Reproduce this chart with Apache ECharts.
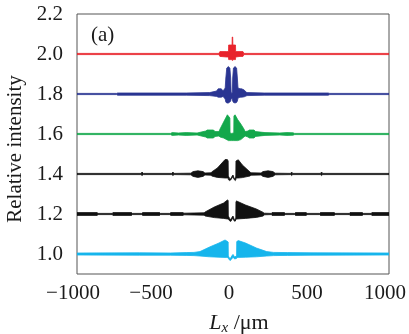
<!DOCTYPE html>
<html>
<head>
<meta charset="utf-8">
<script src="https://cdn.jsdelivr.net/npm/echarts@6/dist/echarts.min.js"></script>
<style>
  html, body { margin: 0; padding: 0; background: #fff; }
  #chart { width: 409px; height: 334px; }
</style>
</head>
<body>
<div id="chart"></div>
<script>
// envelope of each trace: x (um), upper and lower value
const redX = [-1000, -90, -84, -40, -29, -28, -6, -5, -2, -1, 16, 17, 45, 64, 70, 1000]
const redHi = [2.003, 2.003, 2.012, 2.012, 2.012, 2.045, 2.045, 2.085, 2.085, 2.045, 2.045, 2.012, 2.012, 2.012, 2.003, 2.003]
const redLo = [1.997, 1.997, 1.988, 1.985, 1.985, 1.972, 1.972, 1.968, 1.968, 1.972, 1.972, 1.985, 1.988, 1.988, 1.997, 1.997]

const blueX = [-1000, -745, -740, -300, -150, -105, -95, -75, -64, -50, -46, -40, -30, -20, -15, -12, -8, -4, -2, 3, 13, 23, 28, 32, 45, 55, 72, 83, 90, 200, 610, 620, 1000]
const blueHi = [1.803, 1.803, 1.805, 1.805, 1.807, 1.815, 1.826, 1.826, 1.815, 1.83, 1.88, 1.93, 1.937, 1.93, 1.88, 1.81, 1.80, 1.81, 1.88, 1.93, 1.937, 1.93, 1.88, 1.83, 1.826, 1.826, 1.82, 1.81, 1.807, 1.805, 1.805, 1.803, 1.803]
const blueLo = [1.797, 1.797, 1.794, 1.794, 1.792, 1.788, 1.784, 1.784, 1.788, 1.775, 1.76, 1.755, 1.755, 1.76, 1.765, 1.775, 1.78, 1.775, 1.765, 1.758, 1.755, 1.758, 1.765, 1.78, 1.784, 1.784, 1.786, 1.79, 1.792, 1.794, 1.794, 1.797, 1.797]

const greenX = [-1000, -400, -390, -350, -300, -230, -175, -165, -125, -115, -90, -83, -60, -36, -30, -20, -19, -10, 5, 6, 13, 30, 50, 70, 78, 96, 105, 135, 145, 205, 300, 346, 385, 395, 1000]
const greenHi = [1.603, 1.603, 1.607, 1.605, 1.607, 1.605, 1.615, 1.62, 1.62, 1.612, 1.612, 1.625, 1.66, 1.696, 1.69, 1.68, 1.605, 1.603, 1.605, 1.69, 1.696, 1.672, 1.65, 1.625, 1.612, 1.615, 1.62, 1.62, 1.612, 1.607, 1.605, 1.607, 1.606, 1.603, 1.603]
const greenLo = [1.597, 1.597, 1.593, 1.595, 1.593, 1.595, 1.585, 1.58, 1.58, 1.588, 1.59, 1.585, 1.58, 1.57, 1.567, 1.567, 1.567, 1.567, 1.567, 1.567, 1.567, 1.567, 1.572, 1.585, 1.59, 1.585, 1.58, 1.58, 1.588, 1.593, 1.595, 1.593, 1.594, 1.597, 1.597]

const black14X = [-1000, -590, -583, -575, -392, -385, -378, -270, -256, -225, -192, -180, -140, -137, -100, -51, -36, -31, -30, -22, -15, -5, 0, 8, 15, 18, 19, 34, 60, 109, 115, 180, 192, 225, 256, 270, 370, 376, 383, 560, 568, 575, 1000]
const black14Hi = [1.403, 1.403, 1.41, 1.403, 1.403, 1.41, 1.403, 1.404, 1.412, 1.416, 1.412, 1.405, 1.406, 1.41, 1.43, 1.472, 1.472, 1.465, 1.39, 1.378, 1.375, 1.39, 1.395, 1.378, 1.375, 1.39, 1.465, 1.471, 1.445, 1.41, 1.406, 1.405, 1.412, 1.416, 1.412, 1.404, 1.403, 1.41, 1.403, 1.403, 1.41, 1.403, 1.403]
const black14Lo = [1.397, 1.397, 1.392, 1.397, 1.397, 1.392, 1.397, 1.396, 1.388, 1.383, 1.388, 1.395, 1.394, 1.39, 1.383, 1.38, 1.38, 1.38, 1.372, 1.367, 1.37, 1.382, 1.385, 1.372, 1.367, 1.372, 1.38, 1.38, 1.382, 1.39, 1.394, 1.395, 1.388, 1.383, 1.388, 1.396, 1.397, 1.392, 1.397, 1.397, 1.392, 1.397, 1.397]

const black12X = [-1000, -870, -865, -775, -770, -650, -645, -585, -580, -470, -465, -405, -400, -320, -315, -185, -179, -120, -60, -36, -31, -30, -22, -14, -5, 0, 6, 12, 18, 19, 23, 80, 150, 194, 200, 245, 250, 330, 335, 395, 400, 470, 475, 555, 560, 650, 655, 745, 750, 830, 835, 885, 890, 1000]
const black12Hi = [1.207, 1.207, 1.203, 1.203, 1.207, 1.207, 1.203, 1.203, 1.207, 1.207, 1.203, 1.203, 1.207, 1.207, 1.204, 1.206, 1.21, 1.235, 1.255, 1.27, 1.268, 1.19, 1.178, 1.172, 1.185, 1.19, 1.178, 1.165, 1.18, 1.262, 1.265, 1.245, 1.225, 1.208, 1.204, 1.203, 1.207, 1.207, 1.203, 1.203, 1.207, 1.207, 1.203, 1.203, 1.207, 1.207, 1.203, 1.203, 1.207, 1.207, 1.203, 1.203, 1.207, 1.207]
const black12Lo = [1.193, 1.193, 1.197, 1.197, 1.193, 1.193, 1.197, 1.197, 1.193, 1.193, 1.197, 1.197, 1.193, 1.193, 1.196, 1.194, 1.19, 1.182, 1.178, 1.175, 1.175, 1.175, 1.166, 1.163, 1.175, 1.18, 1.168, 1.163, 1.17, 1.175, 1.175, 1.178, 1.183, 1.19, 1.196, 1.197, 1.193, 1.193, 1.197, 1.197, 1.193, 1.193, 1.197, 1.197, 1.193, 1.193, 1.197, 1.197, 1.193, 1.193, 1.197, 1.197, 1.193, 1.193]

const cyanX = [-1000, -600, -400, -300, -250, -212, -150, -90, -51, -40, -31, -30, -19, -8, 0, 10, 23, 24, 34, 80, 150, 216, 260, 350, 500, 1000]
const cyanHi = [1.005, 1.006, 1.005, 1.007, 1.008, 1.012, 1.035, 1.055, 1.07, 1.065, 1.06, 0.99, 0.975, 0.99, 0.998, 0.985, 0.99, 1.062, 1.067, 1.055, 1.03, 1.012, 1.008, 1.007, 1.006, 1.005]
const cyanLo = [0.995, 0.994, 0.994, 0.993, 0.992, 0.99, 0.986, 0.984, 0.983, 0.983, 0.983, 0.978, 0.967, 0.975, 0.985, 0.975, 0.978, 0.983, 0.983, 0.984, 0.986, 0.99, 0.992, 0.993, 0.994, 0.995]

const xTicks = [-1000, -500, 0, 500, 1000]
const yTicks = [1.0, 1.2, 1.4, 1.6, 1.8, 2.0, 2.2]

const FONT = '"Liberation Serif", "DejaVu Serif", serif'

// filled band between lo and hi, drawn once as a polygon through the axes
function band (xs, hi, lo, color) {
  return {
    type: 'custom',
    silent: true,
    clip: true,
    data: xs.map((x, i) => [x, hi[i], lo[i]]),
    encode: { x: 0, y: [1, 2] },
    renderItem (params, api) {
      if (params.dataIndexInside !== 0) return null
      const top = []
      const bottom = []
      for (let i = 0; i < xs.length; i++) {
        const x = api.value(0, i)
        top.push(api.coord([x, api.value(1, i)]))
        bottom.push(api.coord([x, api.value(2, i)]))
      }
      return {
        type: 'polygon',
        shape: { points: top.concat(bottom.reverse()) },
        style: { fill: color, stroke: color, lineWidth: 0.8 }
      }
    }
  }
}

const chart = echarts.init(document.getElementById('chart'))
chart.setOption({
  animation: false,
  title: {
    text: '(a)',
    left: 86,
    top: 20,
    textStyle: { fontFamily: FONT, fontSize: 21, fontWeight: 'normal', color: '#1a1a1a' }
  },
  grid: {
    left: 77,
    right: 20,
    top: 14,
    bottom: 60,
    outerBoundsMode: 'none',
    show: true,
    borderColor: '#555',
    borderWidth: 1
  },
  xAxis: {
    type: 'value',
    min: -1000,
    max: 1000,
    interval: 500,
    axisLine: { show: false },
    axisTick: { show: false },
    splitLine: { show: false },
    axisLabel: {
      margin: 9,
      fontFamily: FONT,
      fontSize: 21,
      color: '#1a1a1a',
      padding: [0, 8, 0, 0],
      formatter: v => xTicks.includes(v) ? (v < 0 ? '\u2212' + Math.abs(v) : String(v)) : ''
    },
    name: '{i|L}{s|x}{n| /\u03bcm}',
    nameLocation: 'middle',
    nameGap: 37,
    nameTextStyle: {
      fontFamily: FONT,
      color: '#1a1a1a',
      padding: [0, 0, 0, 12],
      rich: {
        i: { fontFamily: FONT, fontSize: 22, fontStyle: 'italic', color: '#1a1a1a' },
        s: { fontFamily: FONT, fontSize: 15, fontStyle: 'italic', color: '#1a1a1a', padding: [10, 0, 0, 0] },
        n: { fontFamily: FONT, fontSize: 22, color: '#1a1a1a' }
      }
    }
  },
  yAxis: {
    type: 'value',
    min: 0.9,
    max: 2.2,
    interval: 0.1,
    axisLine: { show: false },
    axisTick: { show: false },
    splitLine: { show: false },
    axisLabel: {
      margin: 14,
      fontFamily: FONT,
      fontSize: 21,
      color: '#1a1a1a',
      formatter: v => yTicks.some(t => Math.abs(t - v) < 1e-6) ? v.toFixed(1) : ''
    },
    name: 'Relative intensity',
    nameLocation: 'middle',
    nameRotate: 90,
    nameGap: 49,
    nameTextStyle: { fontFamily: FONT, fontSize: 21, color: '#1a1a1a', padding: [0, 10, 0, 0] }
  },
  series: [
    band(redX, redHi, redLo, '#e8232b'),
    band(blueX, blueHi, blueLo, '#2a3592'),
    band(greenX, greenHi, greenLo, '#13a84b'),
    band(black14X, black14Hi, black14Lo, '#111111'),
    band(black12X, black12Hi, black12Lo, '#111111'),
    band(cyanX, cyanHi, cyanLo, '#16b5ec')
  ]
})
</script>
</body>
</html>
